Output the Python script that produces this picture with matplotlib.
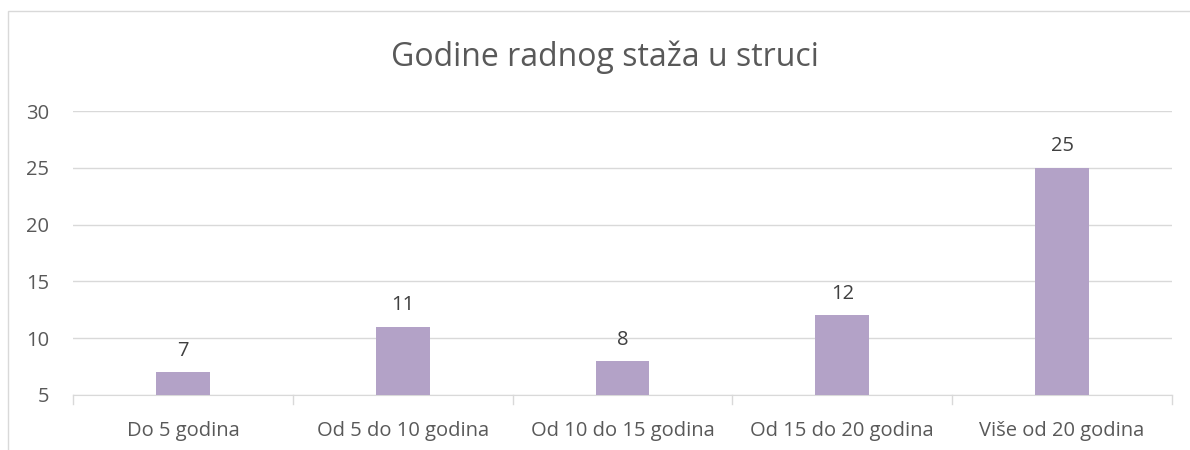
import matplotlib
matplotlib.use("Agg")
import matplotlib.pyplot as plt
from matplotlib.patches import Rectangle

# podaci
kategorije = ["Do 5 godina", "Od 5 do 10 godina", "Od 10 do 15 godina",
              "Od 15 do 20 godina", "Više od 20 godina"]
vrijednosti = [7, 11, 8, 12, 25]
y_ticks = [5, 10, 15, 20, 25, 30]

plt.rcParams['font.family'] = ['Open Sans', 'DejaVu Sans']

fig = plt.figure(figsize=(11.9, 4.5), dpi=100)
ax = fig.add_axes([73/1190, 1-395/450, (1172-73)/1190, (395-111)/450])

x = range(len(kategorije))
ax.bar(x, vrijednosti, width=0.245, color="#B3A2C7", zorder=3)
for xi, v in zip(x, vrijednosti):
    ax.text(xi, v + 1.0, str(v), ha="center", va="bottom", fontsize=14.5, color="#404040")

ax.set_ylim(5, 30)
ax.set_xlim(-0.5, len(kategorije) - 0.5)
ax.set_yticks(y_ticks)
ax.set_xticks(x)
ax.set_xticklabels(kategorije)
ax.yaxis.grid(True, color="#D9D9D9", linewidth=1, zorder=0)
for s in ["top", "right", "left"]:
    ax.spines[s].set_visible(False)
ax.spines["bottom"].set_color("#D9D9D9")
ax.tick_params(axis="y", length=0, labelsize=14.5, labelcolor="#595959", pad=17)
ax.tick_params(axis="x", length=0, labelsize=14.5, labelcolor="#595959", pad=19)
# male oznake izmedju kategorija
for b in [i - 0.5 for i in range(len(kategorije) + 1)]:
    ax.plot([b, b], [5, 4.2], color="#D9D9D9", lw=1, clip_on=False)

fig.text(605/1190, 1 - 57/450, "Godine radnog staža u struci", ha="center", va="center",
         fontsize=23, color="#595959")

fig.patches.append(Rectangle((8/1190, -0.1), 1.2, 1 - 11/450 + 0.1, transform=fig.transFigure,
                             fill=False, edgecolor="#D9D9D9", lw=1))

fig.savefig("out.png", dpi=100)
